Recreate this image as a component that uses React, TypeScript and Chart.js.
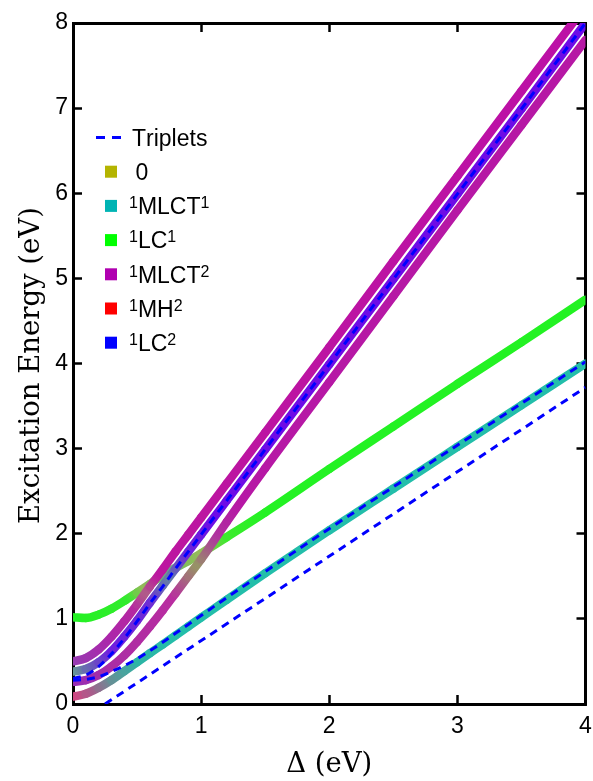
import React, { useEffect, useRef } from 'react';
import { Chart, registerables } from 'chart.js';

Chart.register(...registerables);

// ---------------- data ----------------
const deltaGrid = [0, 0.1, 0.2, 0.3, 0.4, 0.5, 0.6, 0.7, 0.8, 0.9, 1.0, 1.2, 1.5, 2, 2.5, 3, 3.5, 4];

const upperSteepE = [0.5, 0.54, 0.64, 0.79, 0.97, 1.17, 1.38, 1.58, 1.79, 1.99, 2.19, 2.59, 3.19, 4.19, 5.2, 6.2, 7.2, 8.2];
const middleSteepE = [0.38, 0.41, 0.49, 0.62, 0.79, 0.98, 1.19, 1.39, 1.59, 1.79, 1.99, 2.39, 2.99, 3.99, 4.99, 5.99, 6.99, 8.0];
const lowerSteepE = [0.26, 0.28, 0.34, 0.44, 0.57, 0.73, 0.91, 1.1, 1.3, 1.5, 1.7, 2.14, 2.77, 3.78, 4.79, 5.8, 6.8, 7.8];
const lcE = [1.02, 1.01, 1.05, 1.12, 1.21, 1.31, 1.41, 1.51, 1.6, 1.68, 1.77, 1.96, 2.25, 2.76, 3.26, 3.76, 4.25, 4.75];
const mlctE = [0.086, 0.12, 0.19, 0.28, 0.385, 0.49, 0.595, 0.7, 0.805, 0.91, 1.015, 1.225, 1.535, 2.04, 2.53, 3.02, 3.51, 4.0];

const tripletMlctE = [0.28, 0.29, 0.32, 0.38, 0.45, 0.53, 0.625, 0.725, 0.83, 0.935, 1.04, 1.25, 1.555, 2.06, 2.55, 3.04, 3.53, 4.02];
const tripletSteepE = [0.3, 0.34, 0.44, 0.59, 0.77, 0.97, 1.18, 1.38, 1.59, 1.79, 1.99, 2.39, 2.99, 3.99, 4.99, 5.99, 6.99, 8.0];
const tripletLowDelta = [0.25, 4];
const tripletLowE = [0, 3.72];

const xTicks = [0, 1, 2, 3, 4];
const yTicks = [0, 1, 2, 3, 4, 5, 6, 7, 8];

const legendTripletLabel = 'Triplets';
const legendLabels = ['\u00a00', '¹MLCT¹', '¹LC¹', '¹MLCT²', '¹MH²', '¹LC²'];
const legendColors = ['#b4b400', '#00b4b4', '#00ff00', '#b000b0', '#ff0000', '#0000ff'];

const xTitle = 'Δ (eV)';
const yTitle = 'Excitation Energy (eV)';

// ---------------- styles (colour stops along Δ: [Δ, r, g, b]) ----------------
const upperStops = [[0, 150, 60, 178], [0.3, 172, 38, 170], [0.48, 182, 40, 160], [0.56, 175, 95, 135], [0.66, 188, 22, 160], [4, 188, 16, 166]];
const middleStops = [[0, 100, 150, 150], [0.12, 105, 100, 180], [0.3, 112, 30, 222], [0.6, 110, 45, 212], [0.74, 100, 130, 165], [0.88, 110, 40, 215], [1.1, 110, 12, 230], [4, 110, 12, 230]];
const lowerStops = [[0, 150, 45, 180], [0.3, 170, 45, 165], [0.78, 185, 45, 160], [0.96, 150, 150, 100], [1.12, 175, 50, 160], [1.3, 182, 24, 165], [4, 182, 24, 165]];
const greenStops = [[0, 35, 242, 35], [0.42, 50, 235, 45], [0.55, 150, 185, 90], [0.65, 120, 185, 100], [0.75, 100, 170, 140], [0.87, 130, 190, 90], [1.0, 150, 185, 90], [1.2, 60, 235, 45], [1.5, 35, 242, 35], [4, 35, 242, 35]];
const tealStops = [[0, 210, 70, 130], [0.15, 165, 95, 140], [0.3, 100, 145, 150], [0.5, 45, 180, 165], [0.8, 35, 190, 170], [4, 35, 190, 170]];

function colorAt(stops: number[][], d: number): string {
  if (d <= stops[0][0]) return `rgb(${stops[0][1]},${stops[0][2]},${stops[0][3]})`;
  for (let i = 1; i < stops.length; i++) {
    if (d <= stops[i][0]) {
      const a = stops[i - 1], b = stops[i];
      const t = (d - a[0]) / (b[0] - a[0]);
      const c = [1, 2, 3].map(k => Math.round(a[k] + (b[k] - a[k]) * t));
      return `rgb(${c[0]},${c[1]},${c[2]})`;
    }
  }
  const l = stops[stops.length - 1];
  return `rgb(${l[1]},${l[2]},${l[3]})`;
}

function gradientSegment(stops: number[][]) {
  return (ctx: any) => {
    const d0 = deltaGrid[ctx.p0DataIndex];
    const d1 = deltaGrid[ctx.p1DataIndex];
    const x0 = ctx.p0.x, y0 = ctx.p0.y, x1 = ctx.p1.x, y1 = ctx.p1.y;
    if (![x0, y0, x1, y1].every(Number.isFinite)) return colorAt(stops, d0);
    const g = ctx.chart.ctx.createLinearGradient(x0, y0, x1, y1);
    for (let k = 0; k <= 6; k++) {
      const t = k / 6;
      g.addColorStop(t, colorAt(stops, d0 + (d1 - d0) * t));
    }
    return g;
  };
}

const toPoints = (xs: number[], ys: number[]) => xs.map((x, i) => ({ x, y: ys[i] }));

const SANS = '"Liberation Sans", Arial, Helvetica, sans-serif';
const SERIF = '"DejaVu Serif", serif';

function bandDataset(ys: number[], stops: number[][]) {
  return {
    data: toPoints(deltaGrid, ys),
    borderColor: colorAt(stops, 4),
    borderWidth: 8.5,
    borderCapStyle: 'round',
    borderJoinStyle: 'round',
    pointRadius: 0,
    cubicInterpolationMode: 'monotone',
    segment: { borderColor: gradientSegment(stops) },
  };
}

function tripletDataset(xs: number[], ys: number[]) {
  return {
    data: toPoints(xs, ys),
    borderColor: '#0000ff',
    borderWidth: 3,
    borderDash: [8, 6],
    borderCapStyle: 'butt',
    pointRadius: 0,
    cubicInterpolationMode: 'monotone',
  };
}

function drawRich(ctx: CanvasRenderingContext2D, text: string, x: number, baseline: number) {
  const sup: Record<string, string> = { '¹': '1', '²': '2' };
  let cx = x;
  for (const ch of Array.from(text)) {
    if (sup[ch]) {
      ctx.font = `16px ${SANS}`;
      ctx.fillText(sup[ch], cx, baseline - 6);
      cx += ctx.measureText(sup[ch]).width;
    } else {
      ctx.font = `23px ${SANS}`;
      ctx.fillText(ch, cx, baseline);
      cx += ctx.measureText(ch).width;
    }
  }
}

const decorPlugin = {
  id: 'decor',
  afterDraw(chart: any) {
    const ctx: CanvasRenderingContext2D = chart.ctx;
    const a = chart.chartArea;
    ctx.save();
    ctx.globalAlpha = 1;
    ctx.globalCompositeOperation = 'source-over';

    const rowY0 = 137.5, rowStep = 34.2;
    ctx.strokeStyle = '#0000ff';
    ctx.lineWidth = 3;
    ctx.setLineDash([9, 7]);
    ctx.beginPath();
    ctx.moveTo(96, rowY0); ctx.lineTo(122, rowY0);
    ctx.stroke();
    ctx.setLineDash([]);
    ctx.fillStyle = '#000';
    ctx.textBaseline = 'alphabetic';
    ctx.textAlign = 'left';
    drawRich(ctx, legendTripletLabel, 132, rowY0 + 8.3);
    legendLabels.forEach((lab, i) => {
      const y = rowY0 + (i + 1) * rowStep;
      ctx.fillStyle = legendColors[i];
      ctx.fillRect(105, y - 6, 12, 12);
      ctx.fillStyle = '#000';
      drawRich(ctx, lab, 129, y + 8.3);
    });

    ctx.fillStyle = '#000';
    ctx.font = `27.5px ${SERIF}`;
    ctx.textAlign = 'center';
    ctx.textBaseline = 'alphabetic';
    ctx.fillText(xTitle, (a.left + a.right) / 2, 772);
    ctx.translate(38.5, (a.top + a.bottom) / 2 + 2);
    ctx.rotate(-Math.PI / 2);
    ctx.fillText(yTitle, 0, 0);
    ctx.restore();
  },
};

const frameGrid = { display: true, drawOnChartArea: false, drawTicks: true, tickLength: -9, tickWidth: 2.5, tickColor: '#000000' };
const frameBorder = { display: true, width: 3, color: '#000000' };

export default function App() {
  const ref = useRef<HTMLCanvasElement | null>(null);
  useEffect(() => {
    if (!ref.current) return;
    const chart = new Chart(ref.current, {
      type: 'line',
      data: {
        datasets: [
          tripletDataset(deltaGrid, tripletSteepE),
          tripletDataset(deltaGrid, tripletMlctE),
          tripletDataset(tripletLowDelta, tripletLowE),
          bandDataset(upperSteepE, upperStops),
          bandDataset(middleSteepE, middleStops),
          bandDataset(lowerSteepE, lowerStops),
          bandDataset(mlctE, tealStops),
          bandDataset(lcE, greenStops),
        ] as any,
      },
      options: {
        animation: false,
        responsive: false,
        devicePixelRatio: 1,
        events: [],
        layout: { padding: { top: 23, right: 7.5, left: 0, bottom: 0 } },
        plugins: { legend: { display: false }, tooltip: { enabled: false } },
        scales: {
          x: {
            type: 'linear',
            position: 'bottom',
            min: 0,
            max: 4,
            afterFit: (s: any) => { s.height = 77; s.paddingLeft = 0; s.paddingRight = 0; },
            afterBuildTicks: (s: any) => { s.ticks = xTicks.map(v => ({ value: v })); },
            grid: frameGrid,
            border: frameBorder,
            ticks: { color: '#000', font: { family: SANS, size: 23 }, padding: 18, maxRotation: 0 },
          },
          y: {
            type: 'linear',
            position: 'left',
            min: 0,
            max: 8,
            afterFit: (s: any) => { s.width = 73; s.paddingTop = 0; s.paddingBottom = 0; },
            afterBuildTicks: (s: any) => { s.ticks = yTicks.map(v => ({ value: v })); },
            grid: frameGrid,
            border: frameBorder,
            ticks: { color: '#000', font: { family: SANS, size: 23 }, padding: 14 },
          },
          xTop: {
            type: 'linear',
            position: 'top',
            min: 0,
            max: 4,
            afterFit: (s: any) => { s.height = 0; s.paddingLeft = 0; s.paddingRight = 0; },
            afterBuildTicks: (s: any) => { s.ticks = xTicks.map(v => ({ value: v })); },
            grid: frameGrid,
            border: frameBorder,
            ticks: { display: false },
          },
          yRight: {
            type: 'linear',
            position: 'right',
            min: 0,
            max: 8,
            afterFit: (s: any) => { s.width = 0; s.paddingTop = 0; s.paddingBottom = 0; },
            afterBuildTicks: (s: any) => { s.ticks = yTicks.map(v => ({ value: v })); },
            grid: frameGrid,
            border: frameBorder,
            ticks: { display: false },
          },
        },
      } as any,
      plugins: [decorPlugin],
    });
    return () => chart.destroy();
  }, []);
  return (
    <div style={{ position: 'fixed', left: 0, top: 0, width: 593, height: 781, background: '#fff' }}>
      <canvas ref={ref} width={593} height={781} style={{ display: 'block' }} />
    </div>
  );
}
